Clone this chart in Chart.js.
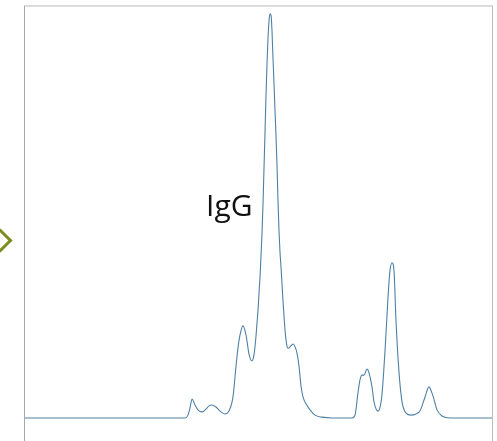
<!DOCTYPE html>
<html>
<head>
  <meta charset="UTF-8">
  <title>IgG Chromatogram</title>
  <script src="https://cdn.jsdelivr.net/npm/chart.js"></script>
</head>
<body style="margin:0; background:#fff; overflow:hidden; width:497px; height:441px; position:relative">
  <div style="position:absolute; left:-8.5px; top:231.5px; width:17px; height:17px; box-sizing:border-box; border-top:3px solid #7d8c1f; border-right:3px solid #7d8c1f; transform:rotate(45deg)"></div>
  <div style="position:absolute; left:24px; top:5px; width:467px; height:434px; border-top:2px solid #dcdcdc; border-left:1px solid #a8a8a8; border-right:1px solid #bdbdbd">
    <canvas id="chart" width="467" height="434"></canvas>
  </div>
  <div style="position:absolute; left:206px; top:190px; font-family:'Open Sans', sans-serif; font-size:30px; line-height:30px; color:#111">IgG</div>
  <script>
    // retention time (min) and absorbance (mAU, main peak = 100)
    const times = [0, 10.28, 10.47, 10.60, 10.73, 10.92, 11.11, 11.37, 11.63, 11.82, 12.01, 12.27, 12.53, 12.85,
      13.10, 13.36, 13.55, 13.68, 13.81, 14.00, 14.20, 14.39, 14.58, 14.71, 14.78, 14.84, 14.90, 14.97, 15.03,
      15.10, 15.16, 15.23, 15.29, 15.35, 15.42, 15.48, 15.55, 15.61, 15.68, 15.74,
      15.81, 15.87, 15.93, 16.00, 16.06, 16.12, 16.19, 16.25, 16.32, 16.38, 16.45, 16.51, 16.57, 16.64,
      16.70, 16.77, 16.83, 16.90, 17.09, 17.22, 17.35, 17.47, 17.60, 17.73,
      17.86, 18.05, 18.31, 18.63, 19.08, 19.72, 21.01, 21.20, 21.39, 21.52, 21.65, 21.78, 21.97, 22.10, 22.29,
      22.42, 22.68, 22.81, 22.93, 23.13, 23.32, 23.45, 23.58, 23.71, 23.83, 24.03, 24.22, 24.48, 24.80, 25.12,
      25.37, 25.70, 25.95, 26.21, 26.47, 26.79, 27.30, 30.00];
    const absorbance = [0, 0, 0.7, 2.5, 4.7, 3.2, 2.0, 1.5, 2.2, 3.0, 3.2, 2.7, 1.7, 1.0,
      1.7, 5.2, 12.6, 17.3, 20.5, 22.8, 20.5, 15.8, 14.1, 15.6, 17.8, 20.3, 23.3, 26.7, 30.7,
      35.1, 40.1, 46.0, 53.0, 61.4, 70.8, 79.7, 87.9, 94.0, 98.5, 100.0,
      99.5, 95.5, 89.1, 82.4, 76.2, 70.3, 62.4, 54.0, 46.0, 41.1, 37.1, 33.2, 29.2, 25.2,
      21.8, 19.3, 17.8, 17.2, 17.9, 18.3, 17.6, 16.1, 12.9, 7.9,
      5.2, 3.5, 2.0, 0.7, 0.2, 0, 0, 0.7, 6.2, 9.4, 10.6, 10.6, 12.1, 11.1, 7.7,
      4.0, 1.7, 2.7, 5.7, 16.8, 29.9, 36.6, 38.4, 36.1, 24.3, 11.1, 4.0, 1.2, 0.7, 1.0,
      1.7, 5.2, 7.7, 5.4, 2.0, 0.5, 0, 0];

    const points = times.map((t, i) => ({ x: t, y: absorbance[i] }));

    const ctx = document.getElementById('chart').getContext('2d');
    new Chart(ctx, {
      type: 'line',
      data: {
        datasets: [{
          data: points,
          borderColor: '#4f80a4',
          borderWidth: 1.1,
          pointRadius: 0,
          fill: false,
          cubicInterpolationMode: 'monotone'
        }]
      },
      options: {
        responsive: false,
        animation: false,
        layout: { padding: 0 },
        plugins: { legend: { display: false }, tooltip: { enabled: false } },
        scales: {
          x: { type: 'linear', min: 0, max: 30, display: false },
          y: { min: -5.7, max: 101.7, display: false }
        }
      }
    });
  </script>
</body>
</html>
